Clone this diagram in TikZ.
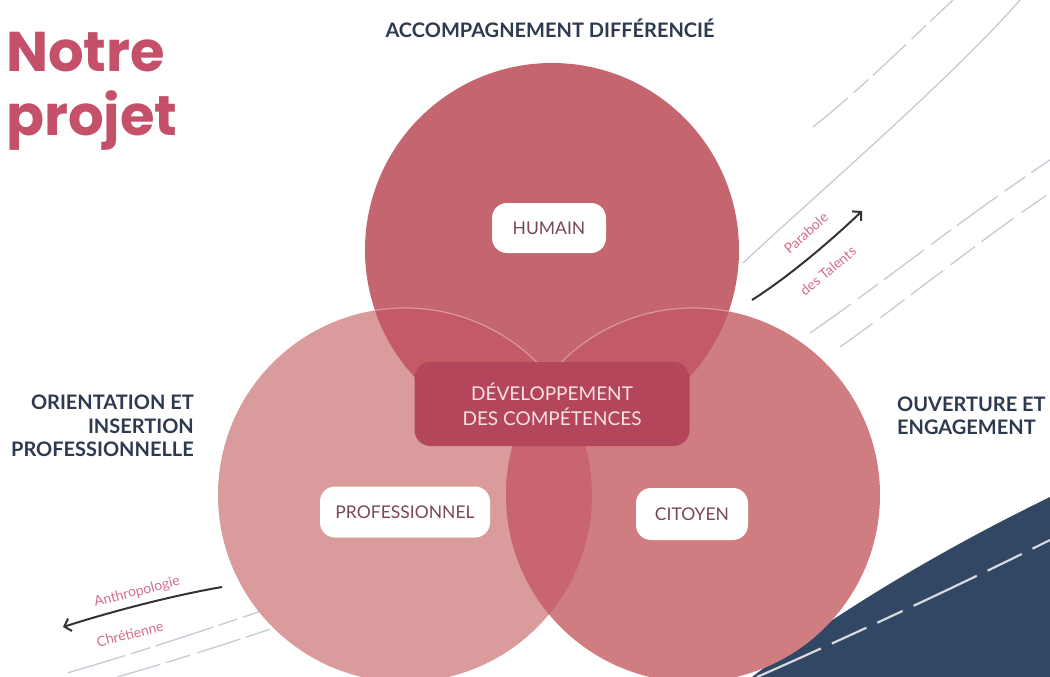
\documentclass[tikz,border=0pt]{standalone}
\usepackage{fontspec}
\setmainfont{Lato}
\newfontfamily\titlefont{Poppins}
\usetikzlibrary{arrows.meta}
\definecolor{navy}{HTML}{324763}
\definecolor{headc}{HTML}{2E3A4F}
\definecolor{titlec}{HTML}{C4506A}
\definecolor{ctop}{HTML}{C5656F}
\definecolor{cleft}{HTML}{D99B9C}
\definecolor{cright}{HTML}{D07D81}
\definecolor{ctl}{HTML}{C35A66}
\definecolor{ctr}{HTML}{C25A68}
\definecolor{clr}{HTML}{C8656F}
\definecolor{cbox}{HTML}{B4465C}
\definecolor{labc}{HTML}{7A4656}
\definecolor{pinkt}{HTML}{D27089}
\definecolor{faint}{HTML}{C3CCD6}
\definecolor{boxtext}{HTML}{F6E2E7}
\definecolor{arrowc}{HTML}{333333}
\tikzset{
  head/.style={text=headc, font=\fontsize{20}{23.5}\selectfont\bfseries, inner sep=0pt},
  pill/.style={fill=white, rounded corners=15pt, text=labc, font=\fontsize{17.5}{20}\selectfont, inner sep=0pt},
  centerbox/.style={fill=cbox, rounded corners=16pt, text=boxtext, font=\fontsize{19}{25}\selectfont, align=center, inner sep=0pt, minimum width=275pt, minimum height=84pt},
  pinkl/.style={text=pinkt, font=\fontsize{14}{16}\selectfont, inner sep=0pt},
  faintline/.style={draw=faint, line width=1.3pt},
  curvearrow/.style={draw=arrowc, line width=2pt, -{Straight Barb[length=6pt,width=13pt,line width=2pt]}},
  seam/.style={draw=white, opacity=0.35, line width=1.2pt}
}
\begin{document}
\begin{tikzpicture}[x=1pt,y=-1pt]
\useasboundingbox (0,0) rectangle (1050,677);
\fill[white] (0,0) rectangle (1050,677);

% faint background lines
\draw[faintline, dash pattern=on 45pt off 8pt on 20pt off 6pt] (813,127) .. controls (860,90) and (910,40) .. (953,0);
\draw[faintline] (743,263) .. controls (810,200) and (950,80) .. (1020,0);
\draw[faintline, dash pattern=on 50pt off 9pt on 25pt off 7pt] (810,333) .. controls (880,285) and (960,220) .. (1050,160);
\draw[faintline, dash pattern=on 40pt off 10pt on 30pt off 8pt] (840,347) .. controls (900,305) and (980,240) .. (1050,193);
\draw[faintline, dash pattern=on 60pt off 6pt on 20pt off 6pt] (300,598) .. controls (220,625) and (140,652) .. (67,673);
\draw[faintline, dash pattern=on 45pt off 8pt on 25pt off 6pt] (320,612) .. controls (240,640) and (170,662) .. (117,677);

% navy road
\fill[navy] (752,677) .. controls (800,640) and (900,570) .. (1050,497) -- (1050,677) -- cycle;
\draw[white, opacity=0.8, line width=2.2pt, dash pattern=on 70pt off 12pt on 38pt off 12pt on 28pt off 12pt] (757,677) .. controls (830,645) and (950,590) .. (1050,540);

% circles
\coordinate (T) at (552,250);
\coordinate (L) at (405,495);
\coordinate (R) at (693,495);
\fill[cleft] (L) circle (187pt);
\fill[cright] (R) circle (187pt);
\fill[ctop] (T) circle (187pt);
\begin{scope}
  \clip (T) circle (187pt);
  \fill[ctl] (L) circle (187pt);
  \fill[ctr] (R) circle (187pt);
\end{scope}
\begin{scope}
  \clip (L) circle (187pt);
  \fill[clr] (R) circle (187pt);
\end{scope}
\begin{scope}
  \clip (T) circle (187pt);
  \draw[seam] (L) circle (187pt);
  \draw[seam] (R) circle (187pt);
\end{scope}

% labels inside circles
\node[pill, minimum width=114pt, minimum height=50pt] (hum) at (549,228) {HUMAIN};
\node[pill, minimum width=170pt, minimum height=51pt] (pro) at (405,512) {PROFESSIONNEL};
\node[pill, minimum width=112pt, minimum height=52pt] (cit) at (692,514) {CITOYEN};
\node[centerbox] (dev) at (552,404) {DÉVELOPPEMENT\\DES COMPÉTENCES};

% headings
\node[head] (acc) at (550,28) {ACCOMPAGNEMENT DIFFÉRENCIÉ};
\node[head, align=right, anchor=east] (ori) at (194,426) {ORIENTATION ET\\INSERTION\\PROFESSIONNELLE};
\node[head, align=left, anchor=west] (ouv) at (897,416) {OUVERTURE ET\\ENGAGEMENT};

% title
\node[anchor=base west, inner sep=0pt, text=titlec, font=\titlefont\fontsize{56}{60}\selectfont\bfseries] (t1) at (6,72) {Notre};
\node[anchor=base west, inner sep=0pt, text=titlec, font=\titlefont\fontsize{56}{60}\selectfont\bfseries] (t2) at (6,135) {projet};

% arrows
\coordinate (pa1) at (752,300);
\coordinate (pa2) at (862,211);
\draw[curvearrow] (pa1) .. controls (790,276) and (835,237) .. (pa2);
\node[pinkl, rotate=42] (par1) at (806,233) {Parabole};
\node[pinkl, rotate=40] (par2) at (828,271) {des Talents};

\coordinate (an1) at (222,587);
\coordinate (an2) at (63,627);
\draw[curvearrow] (an1) .. controls (170,596) and (110,612) .. (an2);
\node[pinkl, rotate=14] (ant1) at (137,592) {Anthropologie};
\node[pinkl, rotate=14] (ant2) at (130,634) {Chrétienne};
\end{tikzpicture}
\end{document}
